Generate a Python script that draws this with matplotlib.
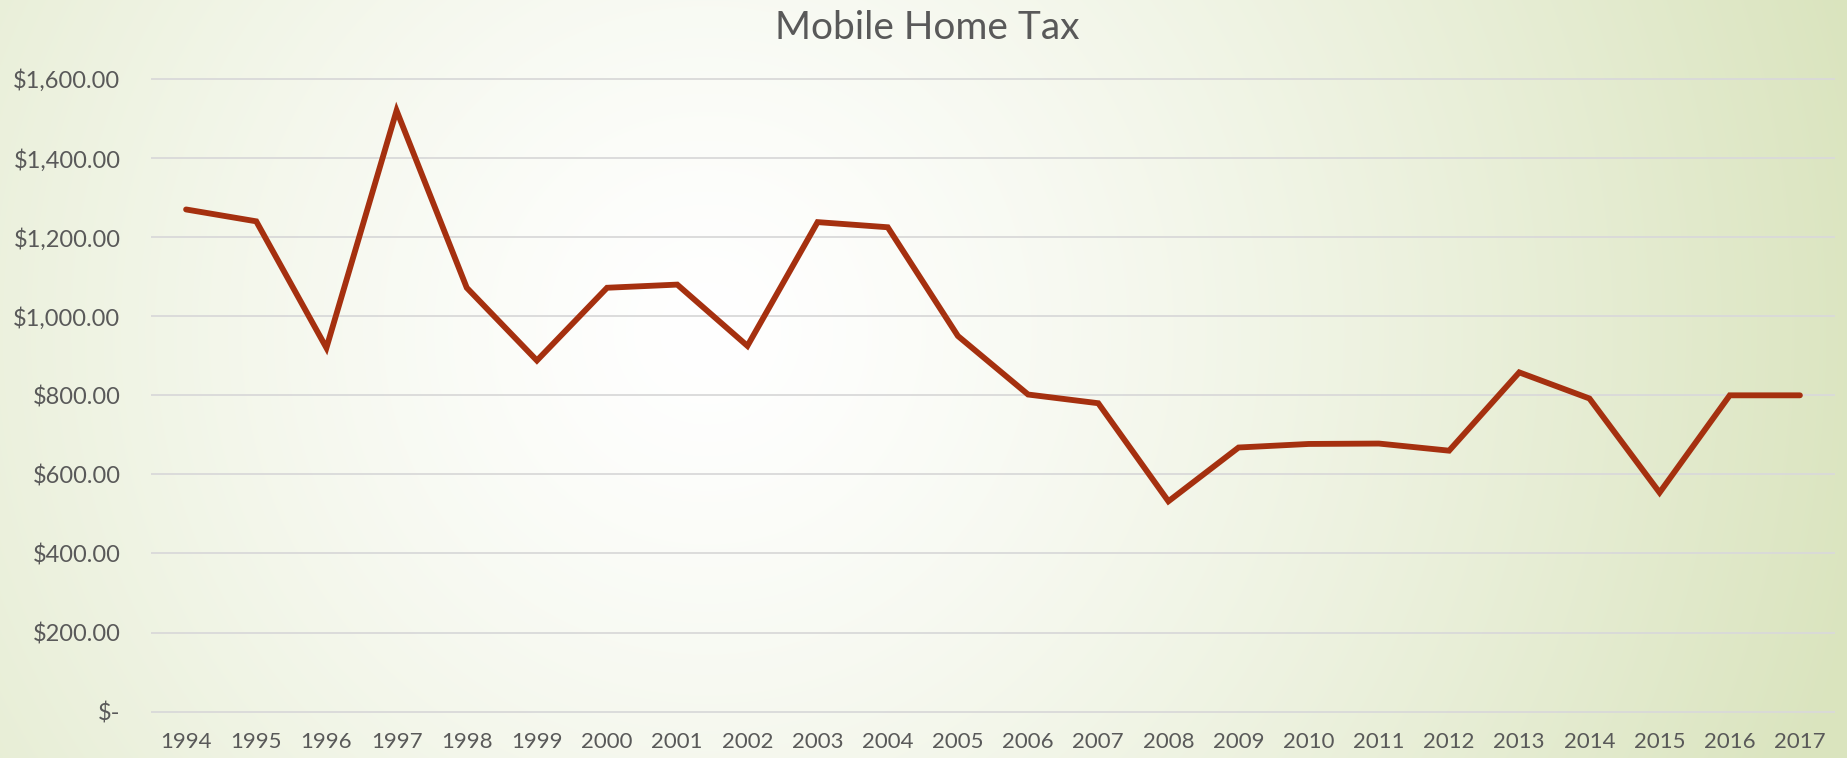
import numpy as np
import matplotlib
matplotlib.use("Agg")
import matplotlib.pyplot as plt
from matplotlib.ticker import FuncFormatter

years = ["1994", "1995", "1996", "1997", "1998", "1999", "2000", "2001",
         "2002", "2003", "2004", "2005", "2006", "2007", "2008", "2009",
         "2010", "2011", "2012", "2013", "2014", "2015", "2016", "2017"]
tax = [1270, 1240, 920, 1520, 1072, 888, 1072, 1080,
       925, 1238, 1225, 950, 802, 780, 532, 668,
       677, 678, 660, 858, 792, 554, 800, 800]
yticks = [0, 200, 400, 600, 800, 1000, 1200, 1400, 1600]
title = "Mobile Home Tax"

W, H = 1847, 758
plt.rcParams['font.family'] = ['Lato', 'DejaVu Sans']
text_color = "#595959"

fig = plt.figure(figsize=(W / 100, H / 100), dpi=100)

# background radial gradient
bg = fig.add_axes([0, 0, 1, 1], zorder=0)
yy, xx = np.mgrid[0:H, 0:W]
cx, cy = 707, 330
d = np.sqrt((xx - cx) ** 2 + (yy - cy) ** 2) / 1187.0
t = np.clip(d, 0, 1) ** 1.3
c0 = np.array([1.0, 1.0, 1.0])
c1 = np.array([0xDA, 0xE4, 0xBE]) / 255.0
img = c0[None, None, :] * (1 - t[..., None]) + c1[None, None, :] * t[..., None]
bg.imshow(img, aspect='auto', extent=[0, 1, 0, 1], origin='upper')
bg.axis('off')

ax = fig.add_axes([151 / W, 0.0507, (1835 - 151) / W, 0.8712], zorder=1)
ax.patch.set_alpha(0)
x = np.arange(len(years))
ax.plot(x, tax, color="#A5300F", lw=4.2, solid_joinstyle='miter', solid_capstyle='round', zorder=3)

ax.set_xlim(-0.5, len(years) - 0.5)
ax.set_ylim(-20, 1650)
ax.set_xticks(x)
ax.set_xticklabels(years)
ax.set_yticks(yticks)

def fmt(v, pos):
    if v == 0:
        return "$-"
    return "${:,.2f}".format(v)

ax.yaxis.set_major_formatter(FuncFormatter(fmt))
ax.grid(axis='y', color="#D9D9D9", lw=1.3, zorder=1)
ax.grid(axis='x', visible=False)
for s in ax.spines.values():
    s.set_visible(False)
ax.tick_params(axis='both', length=0, colors=text_color, labelsize=16)
ax.tick_params(axis='y', pad=22, labelsize=17)
ax.tick_params(axis='x', pad=9)

fig.text(927 / W, 1 - 28 / H, title, ha='center', va='center',
         fontsize=28, color=text_color)

fig.savefig("out.png", dpi=100)
